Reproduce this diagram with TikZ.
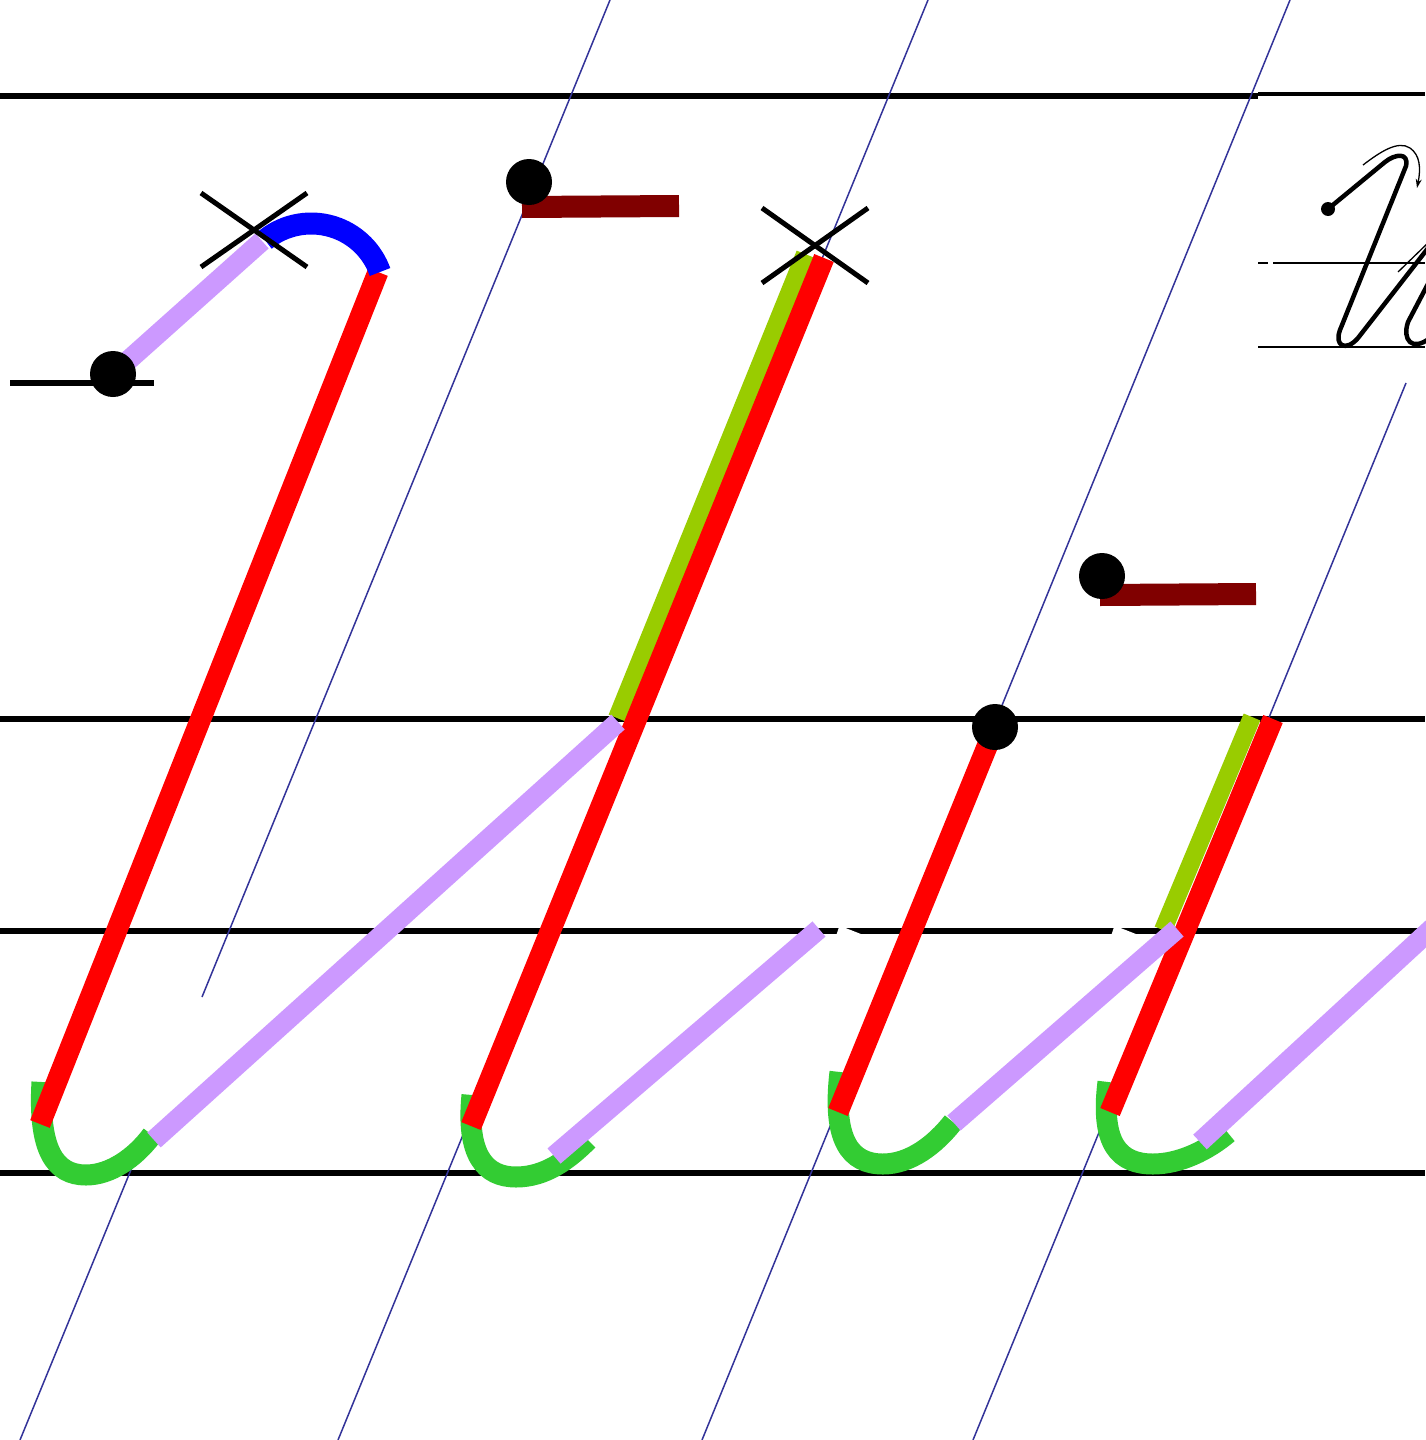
\documentclass[tikz,border=0pt]{standalone}
\usetikzlibrary{arrows.meta}
\definecolor{guide}{HTML}{333399}
\definecolor{strokered}{HTML}{FF0000}
\definecolor{strokepurple}{HTML}{CC99FF}
\definecolor{strokegreen}{HTML}{33CC33}
\definecolor{strokeyg}{HTML}{99CC00}
\definecolor{strokeblue}{HTML}{0000FF}
\definecolor{barred}{HTML}{800000}
\tikzset{
  guideline/.style={draw=guide, line width=1.5pt},
  ruleline/.style={draw=black, line width=6pt},
  redstroke/.style={draw=strokered, line width=21pt},
  purplestroke/.style={draw=strokepurple, line width=20pt},
  greenstroke/.style={draw=strokegreen, line width=21pt},
  ygstroke/.style={draw=strokeyg, line width=18pt},
  bluestroke/.style={draw=strokeblue, line width=22pt},
  barstroke/.style={draw=barred, line width=22pt},
  crossline/.style={draw=black, line width=5pt},
  startdot/.style={circle, fill=black, minimum size=46pt, inner sep=0pt},
  penline/.style={draw=black, line width=4.5pt, line cap=round, line join=round},
  thinpen/.style={draw=black, line width=1.3pt},
}
\begin{document}
\begin{tikzpicture}[x=1pt,y=-1pt]
\useasboundingbox (0,0) rectangle (1425,1440);
\fill[white] (0,0) rectangle (1425,1440);

% ruling lines
\draw[ruleline] (0,96) -- (1258,96);
\draw[draw=black, line width=4pt] (1258,94) -- (1425,94);
\draw[ruleline] (0,719) -- (1425,719);
\draw[ruleline] (0,931) -- (1425,931);
\draw[ruleline] (0,1173) -- (1425,1173);
\draw[ruleline, line width=6pt] (10,383) -- (154,383);

% white ticks on the ruling line
\fill[white] (839,927) -- (843,927) -- (866,936) -- (836,936) -- cycle;
\fill[white] (1114,927) -- (1118,927) -- (1141,936) -- (1111,936) -- cycle;

% slant guide lines
\draw[guideline] (610,0) -- (202,997);
\draw[guideline] (928,0) -- (338,1440);
\draw[guideline] (1290,0) -- (702,1440);
\draw[guideline] (1406,383) -- (973,1440);
\draw[guideline] (20,1440) -- (135,1160);

% sample handwriting (top right)
\draw[draw=black, line width=1.5pt] (1258,263) -- (1268,263);
\draw[draw=black, line width=1.5pt] (1273,263) -- (1425,263);
\draw[draw=black, line width=1.5pt] (1258,347) -- (1425,347);
\fill[black] (1328,209) circle[radius=7];
\draw[penline] (1328,209) -- (1385,162) .. controls (1395,154) and (1409,152) .. (1406,166)
  -- (1340,330) .. controls (1334,346) and (1346,352) .. (1358,338) -- (1432,243);
\draw[penline] (1430,280) -- (1408,322) .. controls (1402,340) and (1412,352) .. (1430,338);
\draw[thinpen] (1398,272) -- (1430,241);
\draw[thinpen, -{Stealth[length=9pt,width=6pt]}] (1363,165) .. controls (1380,152) and (1398,140) .. (1410,148)
  .. controls (1420,155) and (1421,168) .. (1417,188);

% ---------- letter 1 ----------
\coordinate (a1) at (113,374);
\coordinate (b1) at (262,241);
\coordinate (c1) at (378,272);
\coordinate (e1) at (40,1124);
\coordinate (f1) at (154,1140);
\coordinate (g1) at (618,722);
\draw[greenstroke] (42,1082) .. controls (38,1150) and (55,1175) .. (86,1175)
  .. controls (110,1175) and (135,1158) .. (152,1135);
\draw[redstroke] (c1) -- (e1);
\draw[bluestroke] (265,240) arc[start angle=-129.3, end angle=-19.6, radius=73];
\draw[purplestroke] (a1) -- (b1);
\draw[crossline] (201,193) -- (307,267);
\draw[crossline] (201,267) -- (307,193);
\node[startdot] (dot1) at (a1) {};

% ---------- letter 2 ----------
\coordinate (a2) at (805,254);
\coordinate (b2) at (617,718);
\coordinate (c2) at (824,258);
\coordinate (e2) at (471,1126);
\coordinate (f2) at (554,1156);
\coordinate (g2) at (819,929);
\draw[ygstroke] (a2) -- (b2);
\draw[greenstroke] (472,1095) .. controls (466,1155) and (485,1177) .. (516,1177)
  .. controls (545,1177) and (568,1160) .. (588,1140);
\draw[redstroke] (c2) -- (e2);
\draw[purplestroke] (f1) -- (g1);
\draw[purplestroke] (f2) -- (g2);
\draw[crossline] (762,208) -- (868,283);
\draw[crossline] (762,283) -- (868,208);
\coordinate (h2) at (522,207);
\coordinate (k2) at (679,206);
\draw[barstroke] (h2) -- (k2);
\node[startdot] (dot2) at (529,182) {};

% ---------- letter 3 ----------
\coordinate (a3) at (995,727);
\coordinate (e3) at (838,1112);
\coordinate (f3) at (954,1123);
\coordinate (g3) at (1177,929);
\draw[greenstroke] (840,1072) .. controls (832,1140) and (850,1164) .. (883,1164)
  .. controls (910,1164) and (935,1145) .. (953,1122);
\draw[redstroke] (a3) -- (e3);
\node[startdot] (dot3) at (a3) {};
\coordinate (h3) at (1100,595);
\coordinate (k3) at (1256,594);
\draw[barstroke] (h3) -- (k3);
\node[startdot] (dot4) at (1102,576) {};

% ---------- letter 4 ----------
\coordinate (a4) at (1252,717);
\coordinate (b4) at (1163,930);
\coordinate (c4) at (1273,719);
\coordinate (e4) at (1110,1112);
\coordinate (f4) at (1200,1142);
\coordinate (g4) at (1440,921);
\draw[ygstroke] (a4) -- (b4);
\draw[greenstroke] (1108,1082) .. controls (1100,1145) and (1120,1164) .. (1153,1164)
  .. controls (1180,1164) and (1208,1150) .. (1228,1133);
\draw[redstroke] (c4) -- (e4);
\draw[purplestroke] (f3) -- (g3);
\draw[purplestroke] (f4) -- (g4);
\end{tikzpicture}
\end{document}
